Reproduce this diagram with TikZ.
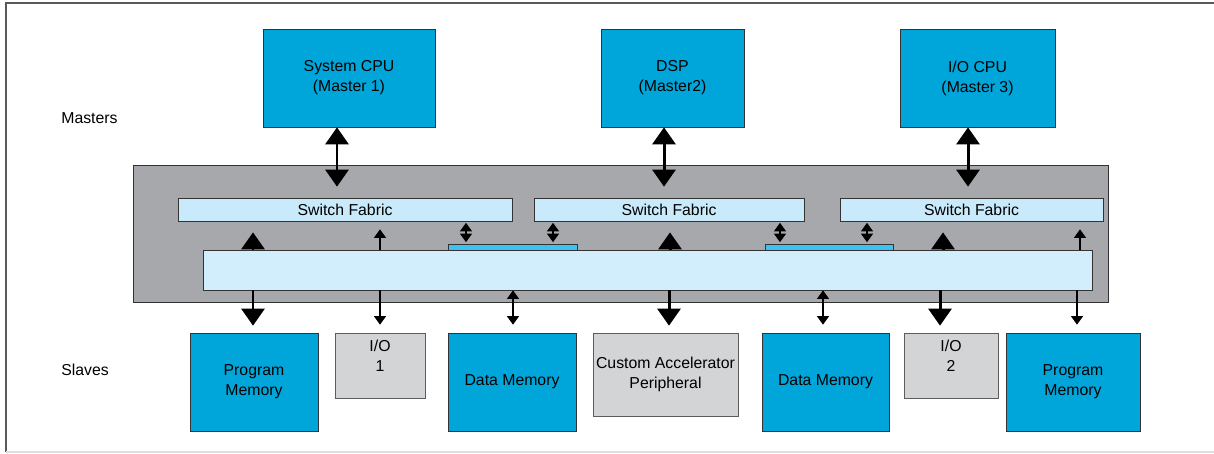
\documentclass[tikz,border=0pt]{standalone}
\usepackage{fontspec}
\setmainfont{Liberation Sans}
\usepackage{xcolor}
\usetikzlibrary{arrows.meta,positioning,calc}

\definecolor{mblue}{HTML}{00A6DA}
\definecolor{bgray}{HTML}{A7A8AB}
\definecolor{sfblue}{HTML}{C9EAFA}
\definecolor{barblue}{HTML}{D2EDFB}
\definecolor{lnkblue}{HTML}{3DC1F0}
\definecolor{sgray}{HTML}{D3D4D6}
\definecolor{edge}{HTML}{333333}

\tikzset{
  txt/.style={font=\fontsize{9}{11.4}\selectfont, align=center, inner sep=0pt},
  master/.style={txt, draw=edge, fill=mblue, minimum height=1.96cm},
  slavebox/.style={txt, draw=edge, fill=mblue, minimum height=1.96cm},
  iobox/.style={txt, draw=edge!80, fill=sgray},
  fabric/.style={txt, draw=edge, fill=sfblue, minimum height=0.46cm},
  linkbar/.style={draw=edge, fill=lnkblue, minimum height=0.12cm, inner sep=0pt},
  bigarr/.style={line width=1.7pt, -{Triangle[width=0.46cm,length=0.34cm]}},
  bigdbl/.style={line width=1.7pt, {Triangle[width=0.46cm,length=0.34cm]}-{Triangle[width=0.46cm,length=0.34cm]}},
  thinarr/.style={line width=0.6pt, -{Triangle[width=0.24cm,length=0.17cm]}},
  thindbl/.style={line width=0.6pt, {Triangle[width=0.24cm,length=0.17cm]}-{Triangle[width=0.24cm,length=0.17cm]}}
}

\begin{document}
\begin{tikzpicture}
    \useasboundingbox (0,0) rectangle (24.28,-9.06);
    % Frame
    \draw[line width=1pt, gray!70!black] (0.12,-9.04) -- (0.12,-0.06) -- (24.28,-0.06);
    \draw[line width=0.8pt, gray!25] (0.12,-9.04) -- (24.28,-9.04);

    % Row labels
    \node[txt, anchor=west] (mlabel) at (1.22,-2.36) {Masters};
    \node[txt, anchor=west] (slabel) at (1.22,-7.40) {Slaves};

    % Masters
    \node[master, minimum width=3.44cm] (cpu1) at (6.98,-1.56) {System CPU\\(Master 1)};
    \node[master, minimum width=2.86cm] (dsp) at (13.45,-1.56) {DSP\\(Master2)};
    \node[master, minimum width=3.10cm] (iocpu) at (19.55,-1.56) {I/O CPU\\(Master 3)};

    % Interconnect block
    \node[draw=edge, fill=bgray, minimum width=19.5cm, minimum height=2.74cm] (noc) at (12.41,-4.67) {};
    \node[fabric, minimum width=6.68cm] (sf1) at (6.90,-4.19) {Switch Fabric};
    \node[fabric, minimum width=5.40cm] (sf2) at (13.38,-4.19) {Switch Fabric};
    \node[fabric, minimum width=5.26cm] (sf3) at (19.43,-4.19) {Switch Fabric};
    \node[linkbar, minimum width=2.58cm] (lnk1) at (10.25,-4.94) {};
    \node[linkbar, minimum width=2.56cm] (lnk2) at (16.58,-4.94) {};
    \node[draw=edge, fill=barblue, minimum width=17.78cm, minimum height=0.80cm] (bus) at (12.95,-5.40) {};

    % Slaves
    \node[slavebox, minimum width=2.56cm] (pm1) at (5.08,-7.64) {Program\\Memory};
    \node[iobox, minimum width=1.80cm, minimum height=1.30cm, label={[txt, yshift=0.2cm]center:I/O\\1}] (io1) at (7.60,-7.31) {};
    \node[slavebox, minimum width=2.56cm] (dm1) at (10.24,-7.64) {Data Memory};
    \node[iobox, minimum width=2.90cm, minimum height=1.66cm] (acc) at (13.31,-7.49) {Custom Accelerator\\Peripheral};
    \node[slavebox, minimum width=2.54cm] (dm2) at (16.51,-7.64) {Data Memory};
    \node[iobox, minimum width=1.88cm, minimum height=1.30cm, label={[txt, yshift=0.2cm]center:I/O\\2}] (io2) at (19.02,-7.31) {};
    \node[slavebox, minimum width=2.68cm] (pm2) at (21.46,-7.64) {Program\\Memory};

    % Masters <-> switch fabrics
    \draw[bigdbl, shorten >=0.22cm] (6.74,0 |- cpu1.south) -- (6.74,0 |- sf1.north);
    \draw[bigdbl, shorten >=0.22cm] (13.28,0 |- dsp.south) -- (13.28,0 |- sf2.north);
    \draw[bigdbl, shorten >=0.22cm] (19.36,0 |- iocpu.south) -- (19.36,0 |- sf3.north);

    % Switch fabrics <-> link bars
    \draw[thindbl, shorten <=0.03cm, shorten >=0.03cm] (9.32,0 |- sf1.south) -- (9.32,0 |- lnk1.north);
    \draw[thindbl, shorten <=0.03cm, shorten >=0.03cm] (11.06,0 |- sf2.south) -- (11.06,0 |- lnk1.north);
    \draw[thindbl, shorten <=0.03cm, shorten >=0.03cm] (15.60,0 |- sf2.south) -- (15.60,0 |- lnk2.north);
    \draw[thindbl, shorten <=0.03cm, shorten >=0.03cm] (17.34,0 |- sf3.south) -- (17.34,0 |- lnk2.north);

    % Bus -> switch fabrics
    \draw[bigarr, shorten >=0.22cm] (5.06,0 |- bus.north) -- (5.06,0 |- sf1.south);
    \draw[thinarr, shorten >=0.16cm] (7.60,0 |- bus.north) -- (7.60,0 |- sf1.south);
    \draw[bigarr, shorten >=0.22cm] (13.40,0 |- bus.north) -- (13.40,0 |- sf2.south);
    \draw[bigarr, shorten >=0.22cm] (18.86,0 |- bus.north) -- (18.86,0 |- sf3.south);
    \draw[thinarr, shorten >=0.16cm] (21.60,0 |- bus.north) -- (21.60,0 |- sf3.south);

    % Bus -> slaves
    \draw[bigarr, shorten >=0.14cm] (5.06,0 |- bus.south) -- (5.06,0 |- pm1.north);
    \draw[thinarr, shorten >=0.16cm] (7.60,0 |- bus.south) -- (7.60,0 |- io1.north);
    \draw[thindbl, shorten >=0.16cm] (10.26,0 |- bus.south) -- (10.26,0 |- dm1.north);
    \draw[bigarr, shorten >=0.14cm] (13.38,0 |- bus.south) -- (13.38,0 |- acc.north);
    \draw[thindbl, shorten >=0.16cm] (16.46,0 |- bus.south) -- (16.46,0 |- dm2.north);
    \draw[bigarr, shorten >=0.14cm] (18.80,0 |- bus.south) -- (18.80,0 |- io2.north);
    \draw[thinarr, shorten >=0.16cm] (21.54,0 |- bus.south) -- (21.54,0 |- pm2.north);
\end{tikzpicture}
\end{document}
